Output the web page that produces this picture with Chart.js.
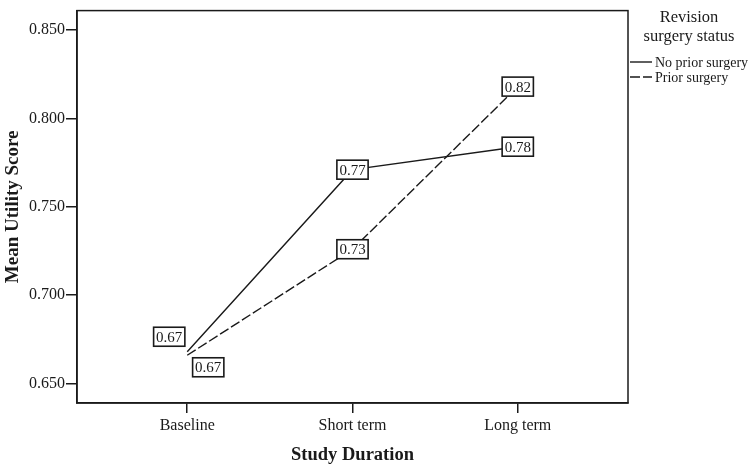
<!DOCTYPE html>
<html>
<head>
<meta charset="utf-8">
<script src="https://cdn.jsdelivr.net/npm/chart.js@4/dist/chart.umd.min.js"></script>
<style>
html,body{margin:0;padding:0;background:#fff;}
#wrap{width:750px;height:466px;position:relative;}
</style>
</head>
<body>
<div id="wrap"><canvas id="c" width="750" height="466"></canvas></div>
<script>
const categories = ["Baseline", "Short term", "Long term"];
const noPrior = [0.668, 0.771, 0.784];
const prior = [0.666, 0.726, 0.818];
const yTicks = [0.650, 0.700, 0.750, 0.800, 0.850];
const seriesNames = ["No prior surgery", "Prior surgery"];
const legendTitle = ["Revision", "surgery status"];

const INK = '#1a1a1a';
const SERIF = '"Liberation Serif", "Times New Roman", serif';

// label box offsets per dataset/point (pixels)
const labelOffsets = [
  [[-18, -15], [0, 0], [0, 0]],
  [[21, 12], [0, 0], [0, 0]]
];

const boxPlugin = {
  id: 'frame',
  beforeDatasetsDraw(chart) {
    const {ctx, chartArea: a} = chart;
    ctx.save();
    ctx.strokeStyle = INK;
    ctx.lineWidth = 1.5;
    ctx.strokeRect(a.left, a.top, a.right - a.left, a.bottom - a.top);
    ctx.restore();
  },
  afterDatasetsDraw(chart) {
    const ctx = chart.ctx;
    ctx.save();
    ctx.font = '15px ' + SERIF;
    ctx.textAlign = 'center';
    ctx.textBaseline = 'middle';
    chart.data.datasets.forEach((ds, di) => {
      const meta = chart.getDatasetMeta(di);
      meta.data.forEach((pt, i) => {
        const off = labelOffsets[di][i];
        const cx = pt.x + off[0], cy = pt.y + off[1];
        const txt = ds.data[i].y.toFixed(2);
        const w = ctx.measureText(txt).width + 5, h = 19;
        ctx.fillStyle = '#fff';
        ctx.fillRect(cx - w / 2, cy - h / 2, w, h);
        ctx.strokeStyle = INK;
        ctx.lineWidth = 1.6;
        ctx.strokeRect(cx - w / 2, cy - h / 2, w, h);
        ctx.fillStyle = INK;
        ctx.fillText(txt, cx, cy + 1);
      });
    });
    ctx.restore();
  },
  afterDraw(chart) {
    const ctx = chart.ctx;
    ctx.save();
    ctx.fillStyle = INK;
    ctx.textAlign = 'center';
    ctx.textBaseline = 'middle';
    ctx.font = '16.5px ' + SERIF;
    ctx.fillText(legendTitle[0], 689, 18);
    ctx.fillText(legendTitle[1], 689, 37);
    ctx.font = '14px ' + SERIF;
    ctx.textAlign = 'left';
    const ys = [62, 77];
    chart.data.datasets.forEach((ds, di) => {
      ctx.strokeStyle = INK;
      ctx.lineWidth = 1.4;
      ctx.setLineDash(ds.borderDash || []);
      ctx.beginPath();
      ctx.moveTo(630, ys[di]);
      ctx.lineTo(652, ys[di]);
      ctx.stroke();
      ctx.setLineDash([]);
      ctx.fillText(seriesNames[di], 655, ys[di] + 1);
    });
    ctx.restore();
  }
};

new Chart(document.getElementById('c'), {
  type: 'line',
  data: {
    datasets: [
      {
        label: seriesNames[0],
        data: noPrior.map((v, i) => ({x: i, y: v})),
        borderColor: INK, borderWidth: 1.4, pointRadius: 0, tension: 0, fill: false
      },
      {
        label: seriesNames[1],
        data: prior.map((v, i) => ({x: i, y: v})),
        borderColor: INK, borderWidth: 1.4, borderDash: [10, 3], pointRadius: 0, tension: 0, fill: false
      }
    ]
  },
  options: {
    responsive: false,
    animation: false,
    devicePixelRatio: 1,
    layout: {padding: {top: 4, right: 122, left: 0, bottom: 0}},
    plugins: {legend: {display: false}, tooltip: {enabled: false}},
    scales: {
      x: {
        type: 'linear',
        min: -0.667, max: 2.667,
        afterBuildTicks(s) { s.ticks = categories.map((c, i) => ({value: i})); },
        afterFit(s) { s.height = 63; },
        grid: {display: true, drawOnChartArea: false, drawTicks: true, tickLength: 10, color: INK, lineWidth: 1.5},
        border: {display: true, color: INK, width: 1.5},
        ticks: {
          color: INK, font: {family: SERIF, size: 16}, padding: 3, maxRotation: 0,
          callback: v => categories[v]
        },
        title: {display: true, text: 'Study Duration', color: INK, font: {family: SERIF, size: 18.5, weight: 'bold'}, padding: {top: 4, bottom: 0}}
      },
      y: {
        min: 0.639, max: 0.861,
        afterBuildTicks(s) { s.ticks = yTicks.map(v => ({value: v})); },
        afterFit(s) { s.width = 77; },
        grid: {display: true, drawOnChartArea: false, drawTicks: true, tickLength: 11, color: INK, lineWidth: 1.5},
        border: {display: true, color: INK, width: 1.5},
        ticks: {
          color: INK, font: {family: SERIF, size: 16}, padding: 1,
          callback: v => Number(v).toFixed(3)
        },
        title: {display: true, text: 'Mean Utility Score', color: INK, font: {family: SERIF, size: 19, weight: 'bold'}, padding: {top: 2, bottom: 4}}
      }
    }
  },
  plugins: [boxPlugin]
});
</script>
</body>
</html>
